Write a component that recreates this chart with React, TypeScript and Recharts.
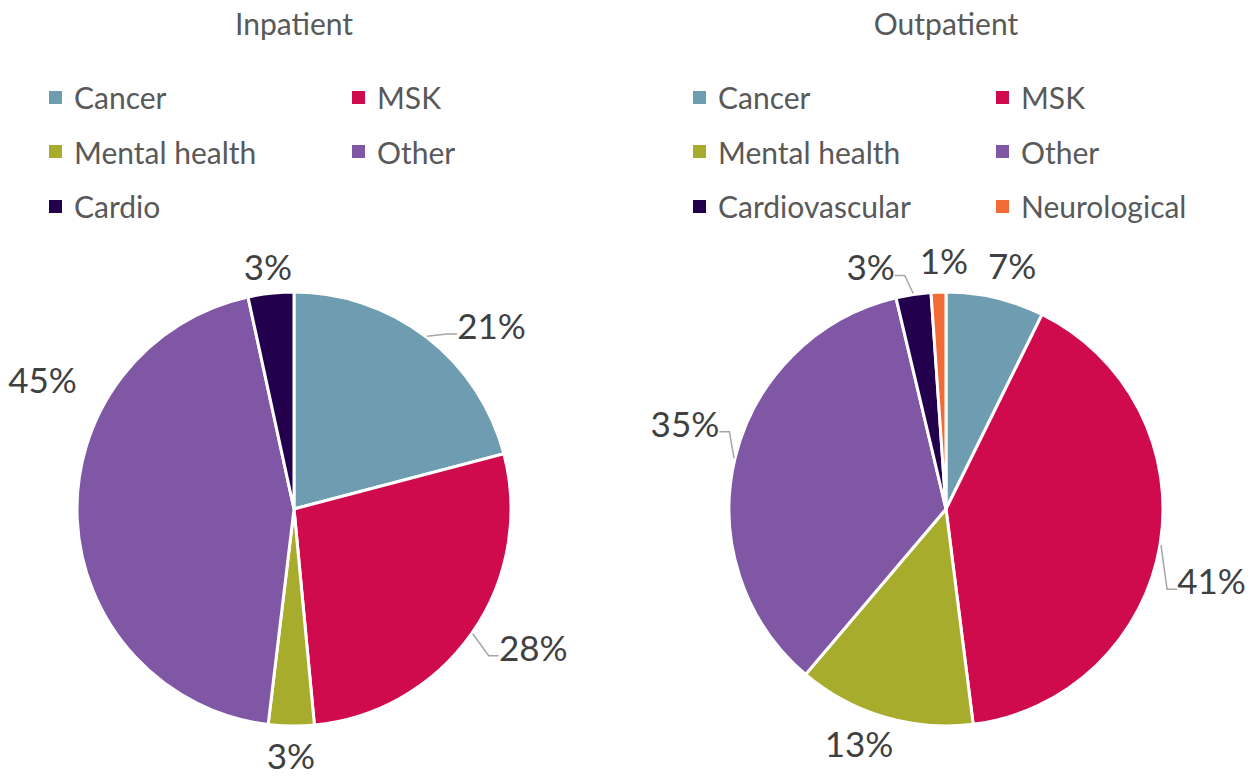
import { PieChart, Pie, Cell } from "recharts"

const inpatientNames = ["Cancer", "MSK", "Mental health", "Other", "Cardio"]
const inpatientValues = [20.9, 27.6, 3.4, 44.7, 3.4]

const outpatientNames = ["Cancer", "MSK", "Mental health", "Other", "Cardiovascular", "Neurological"]
const outpatientValues = [7.3, 40.7, 13.2, 35.1, 2.6, 1.1]

const inpatientColors = ["#6e9cb1", "#cf0b4d", "#a8ac2c", "#7f57a4", "#22004b"]
const outpatientColors = ["#6e9cb1", "#cf0b4d", "#a8ac2c", "#7f57a4", "#22004b", "#f26a35"]

// label placement: [angle nudge in degrees (clockwise), distance from centre, leader line]
const inpatientLabelLayout: [number, number, boolean][] = [
    [9.4, 270, true],
    [-5, 276, true],
    [0, 246, false],
    [30, 283, false],
    [0, 244, false],
]
const outpatientLabelLayout: [number, number, boolean][] = [
    [2, 253, false],
    [5.5, 275, true],
    [3.8, 250, false],
    [4.8, 275, true],
    [-8.6, 254, true],
    [1.5, 249, false],
]

const RAD = Math.PI / 180
const FONT = "Lato, 'Source Sans Pro', sans-serif"
const LABEL_SIZE = 35

function makeLabel(layout: [number, number, boolean][]) {
    // eslint-disable-next-line @typescript-eslint/no-explicit-any
    return function PieLabel(props: any) {
        const { cx, cy, midAngle, outerRadius, index, value } = props
        const [nudge, dist, leader] = layout[index]
        const clock = 90 - midAngle + nudge
        const tx = cx + dist * Math.sin(clock * RAD)
        const ty = cy - dist * Math.cos(clock * RAD)
        const text = `${Math.round(value)}%`
        let line = null
        if (leader) {
            const m = 90 - midAngle
            const x0 = cx + (outerRadius + 1) * Math.sin(m * RAD)
            const y0 = cy - (outerRadius + 1) * Math.cos(m * RAD)
            const s = tx > cx ? 1 : -1
            const half = text.length * LABEL_SIZE * 0.3
            const x2 = tx - s * (half + 3)
            const y2 = ty + 9
            const x1 = x2 - s * 10
            line = (
                <polyline
                    points={`${x0},${y0} ${x1},${y2} ${x2},${y2}`}
                    fill="none"
                    stroke="#a6a6a6"
                    strokeWidth={1.5}
                />
            )
        }
        return (
            <g>
                {line}
                <text
                    x={tx}
                    y={ty}
                    textAnchor="middle"
                    dominantBaseline="central"
                    fill="#404040"
                    fontSize={LABEL_SIZE}
                    fontFamily={FONT}
                >
                    {text}
                </text>
            </g>
        )
    }
}

function LegendGrid({ names, colors, left }: { names: string[]; colors: string[]; left: number }) {
    return (
        <div
            style={{
                position: "absolute",
                top: 70,
                left,
                display: "grid",
                gridTemplateColumns: "303px 240px",
            }}
        >
            {names.map((name, i) => (
                <div key={name} style={{ display: "flex", alignItems: "center", height: 54.5 }}>
                    <span style={{ width: 13, height: 13, background: colors[i], marginRight: 12 }} />
                    <span style={{ fontSize: 30, color: "#595959", fontFamily: FONT }}>{name}</span>
                </div>
            ))}
        </div>
    )
}

interface PanelProps {
    title: string
    names: string[]
    values: number[]
    colors: string[]
    layout: [number, number, boolean][]
    left: number
    legendLeft: number
}

function PiePanel({ title, names, values, colors, layout, left, legendLeft }: PanelProps) {
    const data = names.map((name, i) => ({ name, value: values[i] }))
    return (
        <div style={{ position: "absolute", left, top: 0, width: 604, height: 776 }}>
            <PieChart width={604} height={776} margin={{ top: 0, right: 0, bottom: 0, left: 0 }}>
                <Pie
                    data={data}
                    dataKey="value"
                    nameKey="name"
                    cx={294}
                    cy={509}
                    outerRadius={217}
                    startAngle={90}
                    endAngle={-270}
                    stroke="#ffffff"
                    strokeWidth={3}
                    label={makeLabel(layout)}
                    labelLine={false}
                    isAnimationActive={false}
                >
                    {data.map((d, i) => (
                        <Cell key={d.name} fill={colors[i]} />
                    ))}
                </Pie>
            </PieChart>
            <div
                style={{
                    position: "absolute",
                    left: 0,
                    width: 588,
                    top: 5,
                    textAlign: "center",
                    fontSize: 30,
                    color: "#595959",
                    fontFamily: FONT,
                }}
            >
                {title}
            </div>
            <LegendGrid names={names} colors={colors} left={legendLeft} />
        </div>
    )
}

export default function App() {
    return (
        <div style={{ position: "relative", width: 1256, height: 776, background: "#fff" }}>
            <style>{`body{margin:0}`}</style>
            <PiePanel
                title="Inpatient"
                names={inpatientNames}
                values={inpatientValues}
                colors={inpatientColors}
                layout={inpatientLabelLayout}
                left={0}
                legendLeft={49}
            />
            <PiePanel
                title="Outpatient"
                names={outpatientNames}
                values={outpatientValues}
                colors={outpatientColors}
                layout={outpatientLabelLayout}
                left={652}
                legendLeft={41}
            />
        </div>
    )
}
